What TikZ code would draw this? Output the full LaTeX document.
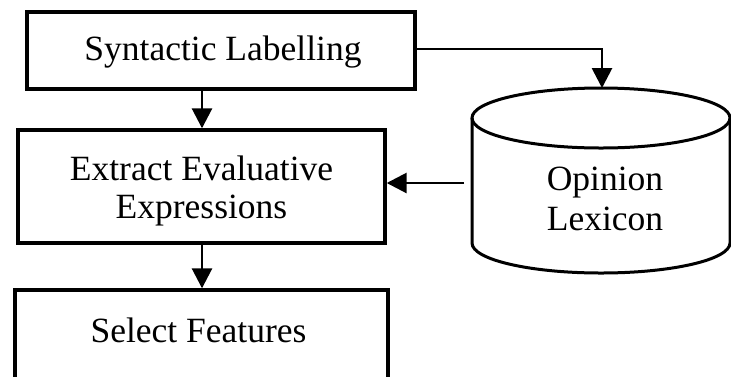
\documentclass[tikz,border=0pt]{standalone}
\usepackage{fontspec}
\setmainfont{Liberation Serif}
\usetikzlibrary{arrows.meta}
\begin{document}
\begin{tikzpicture}[x=1pt,y=-1pt,
  procbox/.style={draw, line width=3.4pt, inner sep=0pt},
  label/.style={inner sep=0pt, align=center, font=\fontsize{35.5}{39}\selectfont},
  flow/.style={line width=2.8pt, -{Triangle[length=20pt,width=20pt]}},
  dbline/.style={line width=3pt}]
  \useasboundingbox (0,0) rectangle (731,376);
  % process boxes
  \node[procbox, minimum width=388pt, minimum height=77pt] (syn) at (221,50.5) {};
  \node[procbox, minimum width=367pt, minimum height=113pt] (ext) at (201.5,186.5) {};
  \node[procbox, minimum width=373pt, minimum height=92pt] (sel) at (201.5,336) {};
  \node[label, anchor=base] (syntext) at (223,60) {Syntactic Labelling};
  \node[label, anchor=base] (exttext) at (201.5,180) {Extract Evaluative};
  \node[label, anchor=base] (exttext2) at (201.5,218) {Expressions};
  \node[label, anchor=base] (seltext) at (198.5,342) {Select Features};
  % lexicon store drawn as a cylinder
  \draw[dbline] (601,118) ellipse[x radius=129, y radius=30];
  \draw[dbline] (472,118) -- (472,243)
                arc[start angle=180, end angle=0, x radius=129, y radius=30]
                -- (730,118);
  \node[label, anchor=base] (lex) at (605,190) {Opinion};
  \node[label, anchor=base] (lex2) at (605,230) {Lexicon};
  \coordinate (lextop) at (602,88);
  \coordinate (lexleft) at (464,183);
  % connectors
  \draw[flow] (syn.south -| 202,0) -- (ext.north -| 202,0);
  \draw[flow] (ext.south -| 202,0) -- (sel.north -| 202,0);
  \draw[flow] (syn.east |- 0,49) -| (lextop);
  \draw[flow] (lexleft) -- (lexleft -| ext.east);
\end{tikzpicture}
\end{document}
